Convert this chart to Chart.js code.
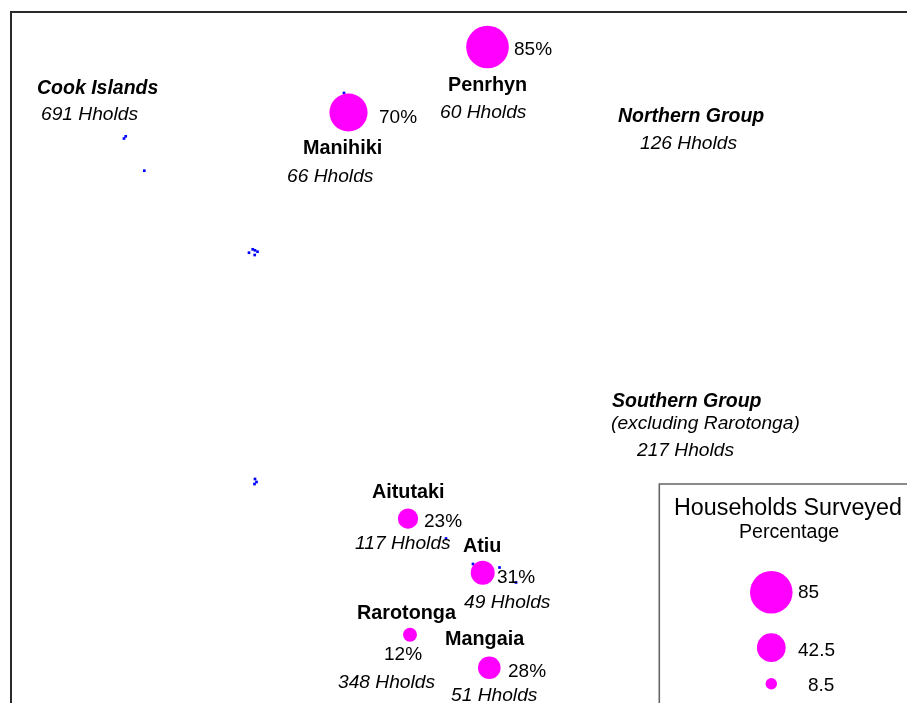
<!DOCTYPE html>
<html>
<head>
<meta charset="utf-8">
<title>Households Surveyed</title>
<script src="https://cdn.jsdelivr.net/npm/chart.js@4"></script>
<style>
  html, body { margin: 0; padding: 0; background: #fff; }
  #map { display: block; }
</style>
</head>
<body>
<canvas id="map" width="907" height="703"></canvas>
<script>
// island data, map position
const islandNames = ["Penrhyn", "Manihiki", "Aitutaki", "Atiu", "Rarotonga", "Mangaia"];
const islandX = [487.5, 348.5, 408, 482.7, 410, 489.3];
const islandY = [47, 112.5, 518.7, 572.7, 634.7, 667.7];
const islandPct = [85, 70, 23, 31, 12, 28];
const islandHholds = [60, 66, 117, 49, 348, 51];

// small land specks in blue
const landX = [125.7, 124, 144.3, 249, 252.7, 255, 257.5, 254.7, 255, 256.5, 254.5, 344, 446, 499.5, 516, 473];
const landY = [136.3, 138.5, 170.7, 252.7, 249.3, 250.3, 251.7, 255, 479, 482, 484, 93, 538.5, 567.5, 582.5, 564];

// legend sizes
const legendValues = [85, 42.5, 8.5];
const legendY = [592.3, 647.7, 683.7];
const legendX = 771.3;

// text layout: [text, left, baseline, style]
const PLAIN = "19px 'Liberation Sans'";
const BOLD = "bold 19.8px 'Liberation Sans'";
const ITALIC = "italic 19.2px 'Liberation Sans'";
const BOLDITALIC = "italic bold 19.5px 'Liberation Sans'";

const labels = [
  ["Cook Islands", 37, 94, BOLDITALIC],
  ["691 Hholds", 41, 120, ITALIC],
  ["Northern Group", 618, 122, BOLDITALIC],
  ["126 Hholds", 640, 149, ITALIC],
  ["Southern Group", 612, 407, BOLDITALIC],
  ["(excluding Rarotonga)", 611, 429, ITALIC],
  ["217 Hholds", 637, 456, ITALIC],
  [islandNames[0], 448, 91, BOLD],
  [islandPct[0] + "%", 514, 55, PLAIN],
  [islandHholds[0] + " Hholds", 440, 118, ITALIC],
  [islandNames[1], 303, 154, BOLD],
  [islandPct[1] + "%", 379, 123, PLAIN],
  [islandHholds[1] + " Hholds", 287, 182, ITALIC],
  [islandNames[2], 372, 498, BOLD],
  [islandPct[2] + "%", 424, 527, PLAIN],
  [islandHholds[2] + " Hholds", 355, 549, ITALIC],
  [islandNames[3], 463, 552, BOLD],
  [islandPct[3] + "%", 497, 583, PLAIN],
  [islandHholds[3] + " Hholds", 464, 608, ITALIC],
  [islandNames[4], 357, 619, BOLD],
  [islandPct[4] + "%", 384, 660, PLAIN],
  [islandHholds[4] + " Hholds", 338, 688, ITALIC],
  [islandNames[5], 445, 645, BOLD],
  [islandPct[5] + "%", 508, 677, PLAIN],
  [islandHholds[5] + " Hholds", 451, 701, ITALIC],
  ["Households Surveyed", 674, 515, "23.3px 'Liberation Sans'"],
  ["Percentage", 739, 538, "19.6px 'Liberation Sans'"],
  [String(legendValues[0]), 798, 598, PLAIN],
  [String(legendValues[1]), 798, 656, PLAIN],
  [String(legendValues[2]), 808, 691, PLAIN]
];

// bubble radius grows with the percentage
function bubbleRadius(pct) {
  return 21.3 * Math.pow(pct / 85, 0.57);
}

const islands = islandX.map(function (x, i) {
  return { x: x, y: islandY[i], pct: islandPct[i] };
});
const legendBubbles = legendValues.map(function (v, i) {
  return { x: legendX, y: legendY[i], pct: v };
});
const specks = landX.map(function (x, i) {
  return { x: x, y: landY[i] };
});

function drawCorner(chart, left, top, color, width) {
  const ctx = chart.ctx;
  const sx = chart.scales.x;
  const sy = chart.scales.y;
  ctx.strokeStyle = color;
  ctx.lineWidth = width;
  ctx.beginPath();
  ctx.moveTo(sx.getPixelForValue(left), sy.getPixelForValue(703));
  ctx.lineTo(sx.getPixelForValue(left), sy.getPixelForValue(top));
  ctx.lineTo(sx.getPixelForValue(907), sy.getPixelForValue(top));
  ctx.stroke();
}

// frame, legend box and all the map text
const mapText = {
  id: "mapText",
  afterDatasetsDraw: function (chart) {
    const ctx = chart.ctx;
    const sx = chart.scales.x;
    const sy = chart.scales.y;
    ctx.save();
    drawCorner(chart, 11, 12, "#2a2a2a", 2);
    drawCorner(chart, 659.3, 484, "#666", 1.6);
    ctx.fillStyle = "#000";
    ctx.textAlign = "left";
    ctx.textBaseline = "alphabetic";
    labels.forEach(function (l) {
      ctx.font = l[3];
      ctx.fillText(l[0], sx.getPixelForValue(l[1]), sy.getPixelForValue(l[2]));
    });
    ctx.restore();
  }
};

const bubbleStyle = {
  backgroundColor: "#ff00ff",
  borderWidth: 0,
  radius: function (c) { return bubbleRadius(c.raw.pct); }
};

new Chart(document.getElementById("map"), {
  type: "bubble",
  data: {
    datasets: [
      Object.assign({ label: "Percentage", data: islands, order: 1 }, bubbleStyle),
      Object.assign({ label: "Legend", data: legendBubbles, order: 1 }, bubbleStyle),
      {
        label: "Land",
        data: specks,
        order: 2,
        backgroundColor: "#0000ff",
        borderWidth: 0,
        pointStyle: "rect",
        radius: 1.9
      }
    ]
  },
  options: {
    responsive: false,
    animation: false,
    layout: { padding: 0, autoPadding: false },
    scales: {
      x: { type: "linear", min: 0, max: 907, display: false },
      y: { type: "linear", min: 0, max: 703, reverse: true, display: false }
    },
    plugins: {
      legend: { display: false },
      tooltip: { enabled: false }
    }
  },
  plugins: [mapText]
});
</script>
</body>
</html>
